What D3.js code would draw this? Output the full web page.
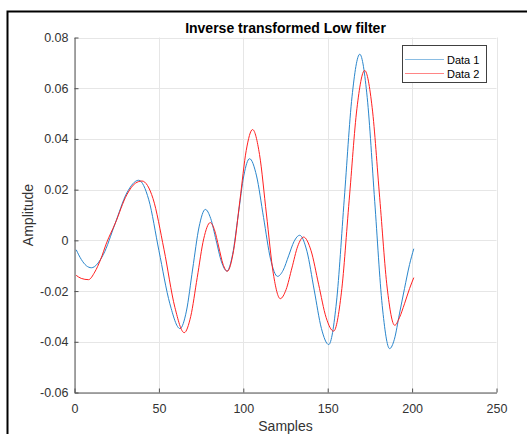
<!DOCTYPE html>
<html>
<head>
<meta charset="utf-8">
<script src="https://cdn.jsdelivr.net/npm/d3@7"></script>
<style>
  html, body { margin: 0; padding: 0; background: #fff; }
  svg { display: block; font-family: "Liberation Sans", Arial, Helvetica, sans-serif; }
</style>
</head>
<body>
<svg id="chart" width="527" height="434"></svg>
<script>
// Sample positions and amplitudes for each filtered signal
const data1Samples = [1, 4, 7, 10, 17, 24, 31, 38, 44, 50, 56.5, 62.5, 66.3, 70, 73.8, 77.5,
  80.7, 83.9, 87.1, 90.3, 93.65, 97, 100.35, 103.7, 107.85, 112, 116.15, 120.3,
  123.6, 126.85, 130.1, 133.4, 137.7, 142, 146.3, 150.6, 155.2, 159.8, 164.4, 169,
  173.4, 177.85, 182.3, 186.7, 189.5, 192.5, 195.5, 198.5, 201];
const data1Values = [-0.0037, -0.0075, -0.0100, -0.0108, -0.0057, 0.0065, 0.0187, 0.0237, 0.0160, -0.0040, -0.0250, -0.0348, -0.0279, -0.0113, 0.0053, 0.0122,
  0.0086, 0.0000, -0.0085, -0.0121, -0.0056, 0.0100, 0.0257, 0.0322, 0.0254, 0.0090, -0.0074, -0.0142,
  -0.0118, -0.0061, -0.0004, 0.0020, -0.0043, -0.0196, -0.0348, -0.0411, -0.0243, 0.0162, 0.0566, 0.0734,
  0.0564, 0.0154, -0.0257, -0.0427, -0.0390, -0.0290, -0.0190, -0.0095, -0.0033];

const data2Samples = [1, 4, 8.3, 12, 15.5, 19, 24, 31, 36, 40, 46.5, 53, 59.5, 65, 68.85, 72.7, 76.55, 80.4,
  82.9, 85.45, 88, 90.5, 94.25, 98, 101.75, 105.5, 109.6, 113.7, 117.8, 121.9,
  125.35, 128.8, 132.25, 135.7, 140.15, 144.6, 149.05, 153.5, 158.1, 162.7, 167.3, 171.9,
  176.35, 180.8, 185.25, 189.7, 192.5, 195.5, 198.5, 201];
const data2Values = [-0.0138, -0.0150, -0.0155, -0.0125, -0.0075, -0.0010, 0.0065, 0.0180, 0.0225, 0.0234, 0.0165, -0.0035, -0.0265, -0.0364, -0.0300, -0.0147, 0.0006, 0.0070,
  0.0042, -0.0026, -0.0094, -0.0122, -0.0040, 0.0158, 0.0355, 0.0437, 0.0339, 0.0104, -0.0132, -0.0230,
  -0.0194, -0.0109, -0.0023, 0.0013, -0.0041, -0.0173, -0.0304, -0.0358, -0.0207, 0.0156, 0.0519, 0.0670,
  0.0523, 0.0168, -0.0188, -0.0335, -0.0305, -0.0250, -0.0190, -0.0147];

const xTicks = [0, 50, 100, 150, 200, 250];
const xTickLabels = ["0", "50", "100", "150", "200", "250"];
const yTicks = [-0.06, -0.04, -0.02, 0, 0.02, 0.04, 0.06, 0.08];
const yTickLabels = ["-0.06", "-0.04", "-0.02", "0", "0.02", "0.04", "0.06", "0.08"];

const seriesNames = ["Data 1", "Data 2"];
const seriesColors = ["#2a86cc", "#ff2020"];

const svg = d3.select("#chart");
const plotLeft = 74.5, plotRight = 496.5, plotTop = 37.5, plotBottom = 392.5;

const x = d3.scaleLinear().domain([0, 250]).range([plotLeft, plotRight]);
const y = d3.scaleLinear().domain([-0.06, 0.08]).range([plotBottom, plotTop]);

// outer figure frame
svg.append("path")
  .attr("d", "M7.5,434V11.5H527")
  .attr("fill", "none").attr("stroke", "#000").attr("stroke-width", 2);

// grid
const grid = svg.append("g").attr("stroke", "#e6e6e6").attr("stroke-width", 1);
xTicks.forEach(t => {
  grid.append("line").attr("x1", Math.round(x(t)) + 0.5).attr("x2", Math.round(x(t)) + 0.5)
    .attr("y1", plotTop).attr("y2", plotBottom);
});
yTicks.forEach(t => {
  grid.append("line").attr("x1", plotLeft).attr("x2", plotRight)
    .attr("y1", Math.round(y(t)) + 0.5).attr("y2", Math.round(y(t)) + 0.5);
});

// series
const series = [
  { name: seriesNames[0], color: seriesColors[0], pts: data1Samples.map((s, i) => [s, data1Values[i]]) },
  { name: seriesNames[1], color: seriesColors[1], pts: data2Samples.map((s, i) => [s, data2Values[i]]) }
];
const line = d3.line().x(d => x(d[0])).y(d => y(d[1])).curve(d3.curveMonotoneX);
series.forEach(sr => {
  svg.append("path").datum(sr.pts)
    .attr("d", line)
    .attr("fill", "none")
    .attr("stroke", sr.color)
    .attr("stroke-width", 1);
});

// axes
const axisColor = "#505050";
const xAxis = d3.axisBottom(x).tickValues(xTicks)
  .tickFormat((d, i) => xTickLabels[i]).tickSizeInner(-4).tickSizeOuter(0).tickPadding(12);
const gx = svg.append("g").attr("transform", `translate(0,${plotBottom})`).call(xAxis);
const yAxis = d3.axisLeft(y).tickValues(yTicks)
  .tickFormat((d, i) => yTickLabels[i]).tickSizeInner(-4).tickSizeOuter(0).tickPadding(6);
const gy = svg.append("g").attr("transform", `translate(${plotLeft},0)`).call(yAxis);
[gx, gy].forEach(g => {
  g.select(".domain").attr("stroke", axisColor);
  g.selectAll(".tick line").attr("stroke", axisColor);
  g.selectAll(".tick text").attr("fill", "#333").style("font-size", "12.5px")
    .style("font-family", "'Liberation Sans', Arial, sans-serif");
});

// titles
svg.append("text").attr("x", 285.5).attr("y", 33).attr("text-anchor", "middle")
  .style("font-size", "14px").style("font-weight", "bold").attr("fill", "#000")
  .text("Inverse transformed Low filter");
svg.append("text").attr("transform", "translate(33,215) rotate(-90)")
  .attr("text-anchor", "middle").style("font-size", "14px").attr("fill", "#333")
  .text("Amplitude");
svg.append("text").attr("x", 285.5).attr("y", 431).attr("text-anchor", "middle")
  .style("font-size", "14px").attr("fill", "#333")
  .text("Samples");

// legend
const lg = svg.append("g");
lg.append("rect").attr("x", 402.5).attr("y", 45.5).attr("width", 84).attr("height", 37)
  .attr("fill", "#fff").attr("stroke", "#404040").attr("stroke-width", 1);
series.forEach((sr, i) => {
  const ly = 59.5 + i * 14;
  lg.append("line").attr("x1", 405).attr("x2", 444).attr("y1", ly).attr("y2", ly)
    .attr("stroke", sr.color).attr("stroke-opacity", 0.55).attr("stroke-width", 1);
  lg.append("text").attr("x", 447).attr("y", ly + 4.5)
    .style("font-size", "11px").attr("fill", "#000").text(sr.name);
});
</script>
</body>
</html>
